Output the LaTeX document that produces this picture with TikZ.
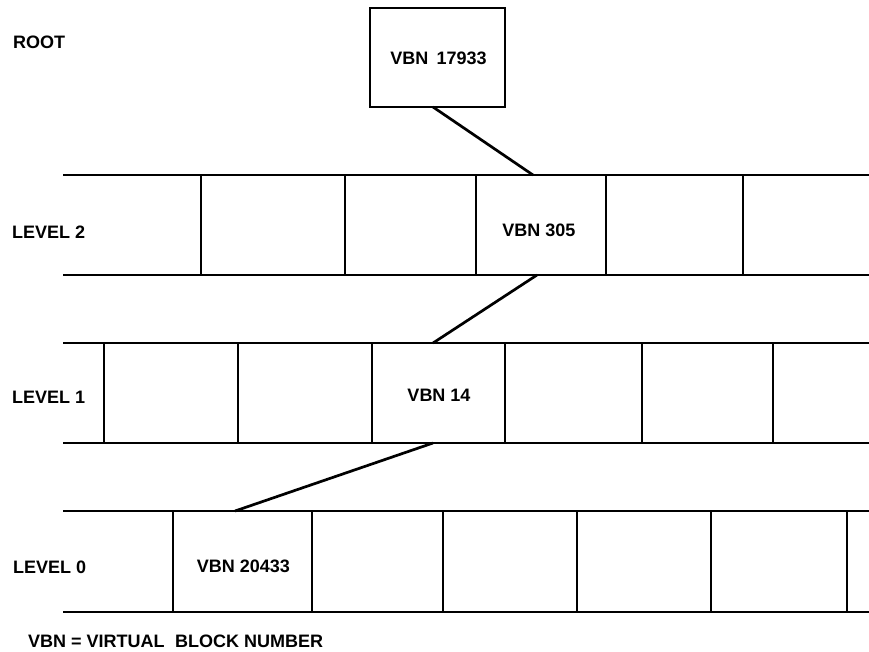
\documentclass[tikz,border=0pt]{standalone}
\usepackage{fontspec}
\setmainfont{Liberation Sans}
\begin{document}
\begin{tikzpicture}[x=1pt,y=-1pt,
  lbl/.style={font=\fontsize{18}{20}\selectfont\bfseries, inner sep=0pt},
  cell/.style={draw, rectangle, inner sep=0pt, outer sep=0pt, line width=2.7pt},
  rule/.style={line width=2.7pt},
  conn/.style={line width=2.7pt}]
\useasboundingbox (0,0) rectangle (869,651);
% root
\node[cell, minimum width=135, minimum height=99] (root) at (437.5,57.5) {};
\node[lbl] (t17933) at (438.5,58) {VBN\hspace{0.45em}17933};
% level 2
\draw[rule] (63,175) -- (869,175);
\draw[rule] (63,275) -- (869,275);
\foreach \x in {201,345,743} \draw[rule] (\x,175) -- (\x,275);
\node[cell, minimum width=130, minimum height=100] (c305) at (541,225) {};
\node[lbl] (t305) at (539,230) {VBN 305};
% level 1
\draw[rule] (63,343) -- (869,343);
\draw[rule] (63,443) -- (869,443);
\foreach \x in {104,238,642,773} \draw[rule] (\x,343) -- (\x,443);
\node[cell, minimum width=133, minimum height=100] (c14) at (438.5,393) {};
\node[lbl] (t14) at (439,395) {VBN 14};
% level 0
\draw[rule] (63,511) -- (869,511);
\draw[rule] (63,612) -- (869,612);
\foreach \x in {443,577,711,847} \draw[rule] (\x,511) -- (\x,612);
\node[cell, minimum width=139, minimum height=101] (c20433) at (242.5,561.5) {};
\node[lbl] (t20433) at (243.5,566) {VBN 20433};
% connectors
\draw[conn] ([xshift=-4.5pt]root.south) -- ([xshift=-8pt]c305.north);
\draw[conn] ([xshift=-4pt]c305.south) -- ([xshift=-5.5pt]c14.north);
\draw[conn] ([xshift=-5.5pt]c14.south) -- ([xshift=-7.5pt]c20433.north);
% labels
\node[lbl, anchor=west] (lroot) at (13,42) {ROOT};
\node[lbl, anchor=west] (l2) at (12,232) {LEVEL 2};
\node[lbl, anchor=west] (l1) at (12,397) {LEVEL 1};
\node[lbl, anchor=west] (l0) at (13,567) {LEVEL 0};
\node[lbl, anchor=west] (legend) at (28,641) {VBN = VIRTUAL\hspace{0.3em} BLOCK NUMBER};
\end{tikzpicture}
\end{document}
